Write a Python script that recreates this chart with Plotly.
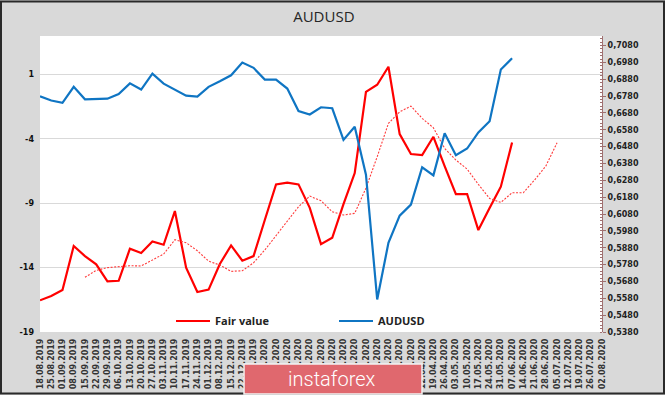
import plotly.graph_objects as go

dates = ["18.08.2019","25.08.2019","01.09.2019","08.09.2019","15.09.2019","22.09.2019","29.09.2019",
"06.10.2019","13.10.2019","20.10.2019","27.10.2019","03.11.2019","10.11.2019","17.11.2019","24.11.2019",
"01.12.2019","08.12.2019","15.12.2019","22.12.2019","29.12.2019","05.01.2020","12.01.2020","19.01.2020",
"26.01.2020","02.02.2020","09.02.2020","16.02.2020","23.02.2020","01.03.2020","08.03.2020","15.03.2020",
"22.03.2020","29.03.2020","05.04.2020","12.04.2020","19.04.2020","26.04.2020","03.05.2020","10.05.2020",
"17.05.2020","24.05.2020","31.05.2020","07.06.2020","14.06.2020","21.06.2020","28.06.2020","05.07.2020",
"12.07.2020","19.07.2020","26.07.2020","02.08.2020"]

fair_value = [-16.54,-16.2,-15.74,-12.32,-13.1,-13.74,-15.06,-15.02,-12.53,-12.86,-11.96,-12.22,-9.6,-14.0,
-15.89,-15.71,-13.72,-12.27,-13.46,-13.1,-10.3,-7.53,-7.4,-7.53,-9.35,-12.17,-11.68,-9.06,-6.65,-0.34,0.21,
1.61,-3.62,-5.17,-5.25,-3.83,-6.11,-8.28,-8.28,-11.08,-9.37,-7.71,-4.27]

fair_value_avg = [None,None,None,None,-14.75,-14.21,-14.0,-13.9,-13.85,-13.87,-13.41,-12.94,-11.83,-12.06,
-12.69,-13.49,-13.8,-14.29,-14.24,-13.62,-12.63,-11.52,-10.43,-9.27,-8.44,-8.8,-9.66,-9.91,-9.78,-7.82,-5.38,
-2.79,-1.89,-1.45,-2.4,-3.13,-4.73,-5.64,-6.34,-7.53,-8.62,-8.93,-8.18,-8.18,-7.19,-6.11,-4.3]

audusd = [.6779,.6754,.6740,.6835,.6761,.6761,.6765,.6793,.6856,.6819,.6914,.6854,.6817,.6783,.6777,.6835,
.6868,.6904,.6979,.6948,.6878,.6878,.6825,.6692,.6671,.6714,.6708,.6520,.6598,.6314,.5573,.5909,.6071,.6136,
.6358,.6310,.6560,.6429,.6469,.6565,.6631,.6938,.7005]

left_ticks = [-19,-14,-9,-4,1]
right_ticks = [.538,.548,.558,.568,.578,.588,.598,.608,.618,.628,.638,.648,.658,.668,.678,.688,.698,.708]
right_labels = [f"{v:.4f}".replace(".", ",") for v in right_ticks]

RED = "#ff0000"
BLUE = "#0f75c3"
FONT = "DejaVu Sans"
W, H = 665, 395
L, R, T, B = 40, 602, 36, 332

def px(x):
    return (x - L) / (R - L)

def py(y):
    return (B - y) / (B - T)

fig = go.Figure()
fig.add_trace(go.Scatter(x=dates[:len(fair_value)], y=fair_value, mode="lines", name="Fair value",
                         line=dict(color=RED, width=2.2), yaxis="y", legend="legend"))
fig.add_trace(go.Scatter(x=dates[:len(fair_value_avg)], y=fair_value_avg, mode="lines", showlegend=False,
                         line=dict(color="#ff3b3b", width=1.1, dash="2px,1.5px"), yaxis="y"))
fig.add_trace(go.Scatter(x=dates[:len(audusd)], y=audusd, mode="lines", name="AUDUSD",
                         line=dict(color=BLUE, width=2.2), yaxis="y2", legend="legend2"))

leg_font = dict(family="Open Sans", size=11, color="#222222", weight="bold")
fig.update_layout(
    width=W, height=H, autosize=False,
    margin=dict(l=L, r=W - R, t=T, b=H - B, autoexpand=False),
    paper_bgcolor="#d9d9d9", plot_bgcolor="#ffffff",
    title=dict(text="AUDUSD", x=0.487, xanchor="center", y=0.957, yanchor="middle",
               font=dict(family="Open Sans", size=15, color="#262626")),
    xaxis=dict(type="category", categoryorder="array", categoryarray=dates, range=[0, 50],
               tickmode="array", tickvals=dates, ticktext=dates, tickangle=-90, ticklabelstandoff=4,
               tickfont=dict(family=FONT, size=8, color="#333333", weight="bold"),
               showgrid=False, showline=False, ticks="", zeroline=False),
    yaxis=dict(range=[-19, 4], tickmode="array", tickvals=left_ticks, ticktext=[str(v) for v in left_ticks],
               tickfont=dict(family=FONT, size=8, color="#111111", weight="bold"),
               ticklabelstandoff=5,
               gridcolor="#d9d9d9", gridwidth=1, zeroline=False, showline=False, ticks=""),
    yaxis2=dict(range=[.538, .7137], overlaying="y", side="right", tickmode="array",
                tickvals=right_ticks, ticktext=right_labels,
                tickfont=dict(family=FONT, size=8, color="#222222", weight="bold"),
                showgrid=False, zeroline=False, showline=True, linecolor="#a07070", linewidth=1,
                ticks="outside", ticklen=3, tickcolor="#a07070",
                minor=dict(dtick=.002, ticks="inside", ticklen=2, tickcolor="#a07070")),
    legend=dict(orientation="h", x=px(171), xanchor="left", y=py(321), yanchor="middle",
                bgcolor="rgba(0,0,0,0)", itemwidth=34, font=leg_font),
    legend2=dict(orientation="h", x=px(334), xanchor="left", y=py(321), yanchor="middle",
                 bgcolor="rgba(0,0,0,0)", itemwidth=34, font=leg_font),
    shapes=[
        dict(type="rect", xref="paper", yref="paper", layer="below",
             x0=px(1), x1=px(664), y0=py(393.5), y1=py(1.5),
             line=dict(color="#2a2a2a", width=2), fillcolor="rgba(0,0,0,0)"),
        dict(type="rect", xref="paper", yref="paper", layer="above",
             x0=px(244), x1=px(422), y0=py(394), y1=py(364),
             line=dict(color="#f2f2f2", width=1.5), fillcolor="#e0686e"),
    ],
    annotations=[
        dict(text="instaforex", xref="paper", yref="paper", x=px(332), y=py(379),
             xanchor="center", yanchor="middle", showarrow=False,
             font=dict(family="Roboto", size=20, color="#ffffff", weight=300)),
    ],
)

fig.write_html("out.html", config=dict(displayModeBar=False),
               post_script="document.body.style.margin='0';")
